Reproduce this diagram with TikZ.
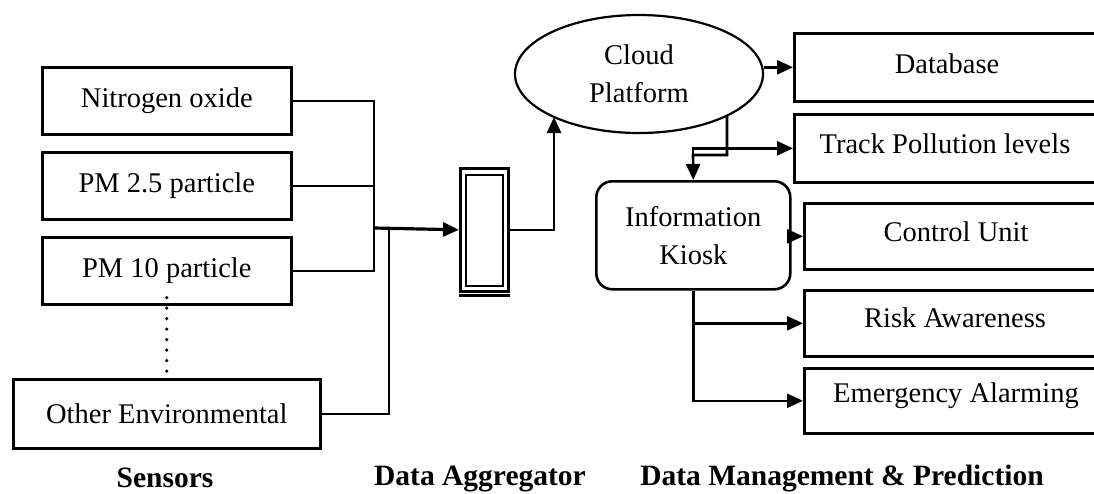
\documentclass[tikz,border=0pt]{standalone}
\usepackage{fontspec}
\setmainfont{Liberation Serif}
\usetikzlibrary{arrows.meta,shapes.geometric}
\begin{document}
\begin{tikzpicture}[x=1pt,y=-1pt,
  every node/.style={font=\fontsize{28.5}{38}\selectfont, inner sep=0pt},
  conn/.style={draw, line width=2.6pt},
  arr/.style={draw, line width=2.6pt, -{Triangle[length=16pt,width=14pt]}},
  sbox/.style={draw, line width=2.6pt, anchor=north west},
  lbl/.style={font=\fontsize{29.5}{34}\selectfont\bfseries, anchor=base}
]
\useasboundingbox (0,0) rectangle (1094,493);
% sensors
\node[sbox, minimum width=249pt, minimum height=67pt] (n1) at (41,66) {Nitrogen oxide};
\node[sbox, minimum width=249pt, minimum height=67pt] (n2) at (41,151) {PM 2.5 particle};
\node[sbox, minimum width=249pt, minimum height=67pt] (n3) at (41,236) {PM 10 particle};
\node[sbox, minimum width=307pt, minimum height=69pt] (n4) at (12,378) {Other Environmental};
\draw[line width=3.6pt, line cap=round, dash pattern=on 0pt off 10.5pt] ([yshift=8pt]n3.south) -- (n3.south |- n4.north);
% aggregator
\node[draw, line width=2.6pt, minimum width=48pt, minimum height=123pt, anchor=north west] (agg) at (459,167) {};
\node[draw, line width=2pt, minimum width=37pt, minimum height=111pt] (aggin) at ([yshift=-1pt]agg.center) {};
\draw[line width=2.6pt] ([yshift=-3pt]agg.south west) -- ([yshift=-3pt]agg.south east);
% bus
\coordinate (busM) at (374,228);
\coordinate (jn) at (389,228);
\draw[conn] (n1.east) -| (busM);
\draw[conn] (n2.east) -| (busM);
\draw[conn] (n3.east) -| (busM);
\draw[conn] (n4.east) -| (jn);
\draw[arr, line width=3.2pt] (busM) -- (agg.west);
% cloud
\node[draw, ellipse, line width=2.2pt, minimum width=248pt, minimum height=118pt, align=center] (cloud) at (639,74) {Cloud\\Platform};
\coordinate (cA) at (554,117);
\draw[arr] (agg.east) -| (cA);
% right boxes
\node[sbox, minimum width=317pt, minimum height=68pt] (db) at (793,32) {};
\node at (947,64) {Database};
\node[sbox, minimum width=317pt, minimum height=68pt] (track) at (793,113) {};
\node at (945,144) {Track Pollution levels};
\node[draw, line width=2.6pt, rounded corners=16pt, minimum width=194pt, minimum height=108pt, anchor=north west, align=center] (kiosk) at (595,180) {Information\\Kiosk};
\node[sbox, minimum width=307pt, minimum height=66pt] (ctrl) at (803,202) {};
\node at (956,232) {Control Unit};
\node[sbox, minimum width=307pt, minimum height=66pt] (risk) at (803,289) {};
\node at (955,318) {Risk Awareness};
\node[sbox, minimum width=307pt, minimum height=65pt] (emer) at (803,367) {};
\node at (956,396) {Emergency Alarming};
% cloud connections
\draw[arr] (cloud.east |- db.west) -- (db.west);
\coordinate (cB) at (727,116);
\coordinate (tj) at (693,155);
\draw[arr] (cB) -- (727,155) -- (tj) -- (kiosk.north);
\draw[arr] (tj) -- (tj |- track.west) -- (track.west);
\draw[arr] (kiosk.east |- ctrl.west) -- (ctrl.west);
\draw[arr] (kiosk.south) |- (risk.west);
\draw[arr] (kiosk.south) |- (emer.west);
% labels
\node[lbl] (l1) at (165,487) {Sensors};
\node[lbl] (l2) at (480,485) {Data Aggregator};
\node[lbl] (l3) at (842,485) {Data Management \& Prediction};
\end{tikzpicture}
\end{document}
